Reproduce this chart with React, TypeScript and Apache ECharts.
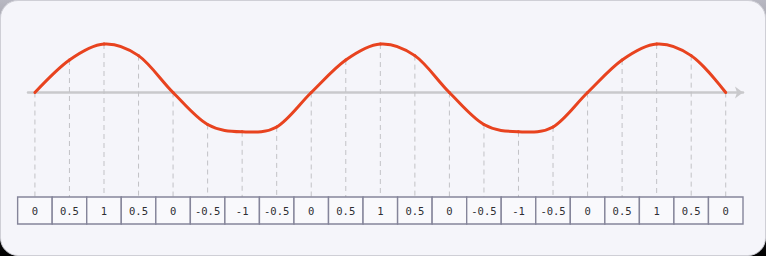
import React, { useEffect, useRef } from "react";
import * as echarts from "echarts";

const sampleIndex = [0, 1, 2, 3, 4, 5, 6, 7, 8, 9, 10, 11, 12, 13, 14, 15, 16, 17, 18, 19, 20];
const curveValues = [0, 0.67, 1, 0.76, 0, -0.66, -0.81, -0.71, 0, 0.67, 1, 0.76, 0, -0.66, -0.81, -0.71, 0, 0.67, 1, 0.76, 0];
const tableLabels = ["0", "0.5", "1", "0.5", "0", "-0.5", "-1", "-0.5", "0", "0.5", "1", "0.5", "0", "-0.5", "-1", "-0.5", "0", "0.5", "1", "0.5", "0"];

const TABLE_TOP = 197;
const TABLE_H = 27;

export default function App() {
  const ref = useRef<HTMLDivElement>(null);
  useEffect(() => {
    if (!ref.current) return;
    const chart = echarts.init(ref.current, undefined, { renderer: "svg" });
    const points = sampleIndex.map((i) => [i, curveValues[i]]);
    const n = points.length - 1;
    chart.setOption({
      animation: false,
      grid: { left: 28, width: 715, top: 44, height: 97 },
      xAxis: {
        type: "value",
        min: -0.2,
        max: 20.5,
        axisLine: {
          onZero: true,
          lineStyle: { color: "#c9c9cc", width: 2.5 },
          symbol: ["none", "arrow"],
          symbolSize: [9, 8],
        },
        axisTick: { show: false },
        axisLabel: { show: false },
        splitLine: { show: false },
      },
      yAxis: {
        type: "value",
        min: -1,
        max: 1,
        show: false,
      },
      series: [
        {
          type: "custom",
          clip: false,
          z: 1,
          data: points,
          renderItem: (params: any, api: any) => {
            const p = api.coord([api.value(0), api.value(1)]);
            return {
              type: "line",
              shape: { x1: p[0], y1: p[1], x2: p[0], y2: TABLE_TOP },
              style: { stroke: "#c2c2c6", lineWidth: 1, lineDash: [5, 4] },
            };
          },
        },
        {
          type: "custom",
          clip: false,
          z: 5,
          data: points,
          renderItem: (params: any, api: any) => {
            const i = params.dataIndex;
            if (i >= n) return { type: "group", children: [] };
            const P = (k: number) => api.coord(points[k]);
            const tangent = (k: number): number[] => {
              if (k > 0 && k < n) {
                const a = P(k - 1);
                const b = P(k + 1);
                return [(b[0] - a[0]) / 2, (b[1] - a[1]) / 2];
              }
              if (k === 0) {
                const a = P(0);
                const b = P(1);
                const m1 = tangent(1);
                return [(3 * (b[0] - a[0]) - m1[0]) / 2, (3 * (b[1] - a[1]) - m1[1]) / 2];
              }
              const a = P(n - 1);
              const b = P(n);
              const m1 = tangent(n - 1);
              return [(3 * (b[0] - a[0]) - m1[0]) / 2, (3 * (b[1] - a[1]) - m1[1]) / 2];
            };
            const p0 = P(i);
            const p1 = P(i + 1);
            const m0 = tangent(i);
            const m1 = tangent(i + 1);
            return {
              type: "bezierCurve",
              shape: {
                x1: p0[0],
                y1: p0[1],
                x2: p1[0],
                y2: p1[1],
                cpx1: p0[0] + m0[0] / 3,
                cpy1: p0[1] + m0[1] / 3,
                cpx2: p1[0] - m1[0] / 3,
                cpy2: p1[1] - m1[1] / 3,
              },
              style: { stroke: "#e8431f", lineWidth: 3, fill: null, lineCap: "round" },
            };
          },
        },
        {
          type: "custom",
          clip: false,
          z: 3,
          data: sampleIndex.map((i) => [i, 0]),
          renderItem: (params: any, api: any) => {
            const i = api.value(0);
            const p = api.coord([i, 0]);
            const p2 = api.coord([i + 1, 0]);
            const w = p2[0] - p[0];
            return {
              type: "group",
              children: [
                {
                  type: "rect",
                  shape: { x: p[0] - w / 2, y: TABLE_TOP, width: w, height: TABLE_H },
                  style: { fill: "#f9f9fc", stroke: "#85859a", lineWidth: 1.4 },
                },
                {
                  type: "text",
                  style: {
                    text: tableLabels[params.dataIndex],
                    x: p[0],
                    y: TABLE_TOP + TABLE_H / 2,
                    textAlign: "center",
                    textVerticalAlign: "middle",
                    fontSize: 10.5,
                    fontFamily: "DejaVu Sans Mono",
                    fill: "#2e2e33",
                  },
                },
              ],
            };
          },
        },
      ],
    });
    return () => chart.dispose();
  }, []);
  return (
    <div
      style={{
        position: "fixed",
        inset: 0,
        background: "linear-gradient(#b8b8c2, #000)",
      }}
    >
      <div
        style={{
          position: "absolute",
          left: 0,
          top: 0,
          width: 766,
          height: 256,
          boxSizing: "border-box",
          border: "1px solid #cfcfd6",
          borderRadius: 18,
          background: "#f5f5fa",
          overflow: "hidden",
        }}
      >
        <div ref={ref} style={{ position: "absolute", left: -1, top: -1, width: 766, height: 256 }} />
      </div>
    </div>
  );
}
